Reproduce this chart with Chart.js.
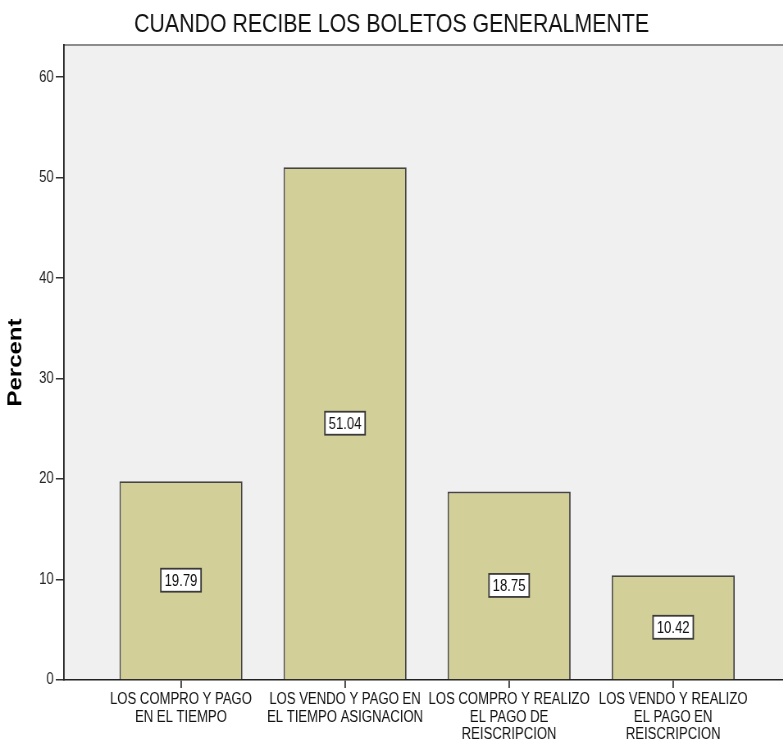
<!DOCTYPE html>
<html>
<head>
<meta charset="utf-8">
<script src="https://cdn.jsdelivr.net/npm/chart.js@4/dist/chart.umd.min.js"></script>
<style>
  html, body { margin: 0; padding: 0; background: #fff; overflow: hidden; }
  #wrap { width: 783px; height: 746px; overflow: hidden; }
  /* el gráfico se dibuja ancho y se estrecha en horizontal */
  #chart { transform: scaleX(0.82); transform-origin: 0 0; }
</style>
</head>
<body>
<div id="wrap"><canvas id="chart" width="955" height="746"></canvas></div>
<script>
// Datos: cuándo recibe los boletos (porcentaje)
const categorias = [
  ['LOS COMPRO Y PAGO', 'EN EL TIEMPO'],
  ['LOS VENDO Y PAGO EN', 'EL TIEMPO ASIGNACION'],
  ['LOS COMPRO Y REALIZO', 'EL PAGO DE', 'REISCRIPCION'],
  ['LOS VENDO Y REALIZO', 'EL PAGO EN', 'REISCRIPCION']
];
const porcentajes = [19.79, 51.04, 18.75, 10.42];
const ticksY = [0, 10, 20, 30, 40, 50, 60];

const FUENTE = "'Liberation Sans', Arial, sans-serif";

// fondo gris del área y borde superior
const fondoArea = {
  id: 'fondoArea',
  beforeDraw(chart) {
    const { ctx, chartArea: a } = chart;
    ctx.save();
    ctx.fillStyle = '#f0f0f0';
    ctx.fillRect(a.left, a.top, a.right - a.left, a.bottom - a.top);
    ctx.strokeStyle = '#8c8c8c';
    ctx.lineWidth = 2;
    ctx.beginPath();
    ctx.moveTo(a.left, a.top);
    ctx.lineTo(a.right, a.top);
    ctx.stroke();
    ctx.restore();
  }
};

// etiquetas con el valor en medio de cada barra
const etiquetas = {
  id: 'etiquetas',
  afterDatasetsDraw(chart) {
    const { ctx } = chart;
    const meta = chart.getDatasetMeta(0);
    ctx.save();
    ctx.font = '16px ' + FUENTE;
    ctx.textAlign = 'center';
    ctx.textBaseline = 'middle';
    meta.data.forEach((bar, i) => {
      const txt = porcentajes[i].toFixed(2);
      const cy = (bar.y + bar.base) / 2;
      const w = ctx.measureText(txt).width + 9;
      const h = 23;
      ctx.fillStyle = '#ffffff';
      ctx.fillRect(bar.x - w / 2, cy - h / 2, w, h);
      ctx.strokeStyle = '#3a3a3a';
      ctx.lineWidth = 1.8;
      ctx.strokeRect(bar.x - w / 2, cy - h / 2, w, h);
      ctx.fillStyle = '#111';
      ctx.fillText(txt, bar.x, cy + 1);
    });
    ctx.restore();
  }
};

new Chart(document.getElementById('chart'), {
  type: 'bar',
  data: {
    datasets: [{
      data: porcentajes.map((v, i) => ({ x: i, y: v })),
      backgroundColor: '#d3cf98',
      borderColor: '#444',
      borderWidth: 1.8,
      barPercentage: 0.75,
      categoryPercentage: 1
    }]
  },
  options: {
    responsive: false,
    animation: false,
    devicePixelRatio: 1,
    layout: { padding: 0 },
    plugins: {
      legend: { display: false },
      tooltip: { enabled: false },
      title: {
        display: true,
        text: 'CUANDO RECIBE LOS BOLETOS GENERALMENTE',
        color: '#111',
        font: { family: FUENTE, size: 26, weight: 'normal' },
        padding: { top: 9, bottom: 4.8 }
      }
    },
    scales: {
      x: {
        type: 'linear',
        offset: false,
        min: -0.713,
        max: 3.67,
        afterBuildTicks(scale) {
          scale.ticks = categorias.map((_, i) => ({ value: i }));
        },
        afterFit(scale) { scale.height = 66; },
        grid: { display: true, offset: false, drawOnChartArea: false, tickLength: 8, color: '#333', lineWidth: 1.8 },
        border: { display: true, color: '#222', width: 1.5 },
        ticks: {
          autoSkip: false,
          maxRotation: 0,
          padding: 3,
          color: '#111',
          font: { family: FUENTE, size: 16, lineHeight: 1.1 },
          callback: (v) => categorias[v]
        }
      },
      y: {
        min: 0,
        max: 63.2,
        afterBuildTicks(scale) {
          scale.ticks = ticksY.map(v => ({ value: v }));
        },
        afterFit(scale) { scale.width = 78; },
        grid: { display: true, drawOnChartArea: false, tickLength: 10, color: '#333', lineWidth: 1.5 },
        border: { display: true, color: '#222', width: 1.8 },
        ticks: {
          padding: 2.5,
          color: '#222',
          font: { family: FUENTE, size: 16 }
        },
        title: {
          display: true,
          text: 'Percent',
          color: '#000',
          font: { family: FUENTE, size: 24, weight: 'bold' },
          padding: { top: 5, bottom: 0 }
        }
      }
    }
  },
  plugins: [fondoArea, etiquetas]
});
</script>
</body>
</html>
